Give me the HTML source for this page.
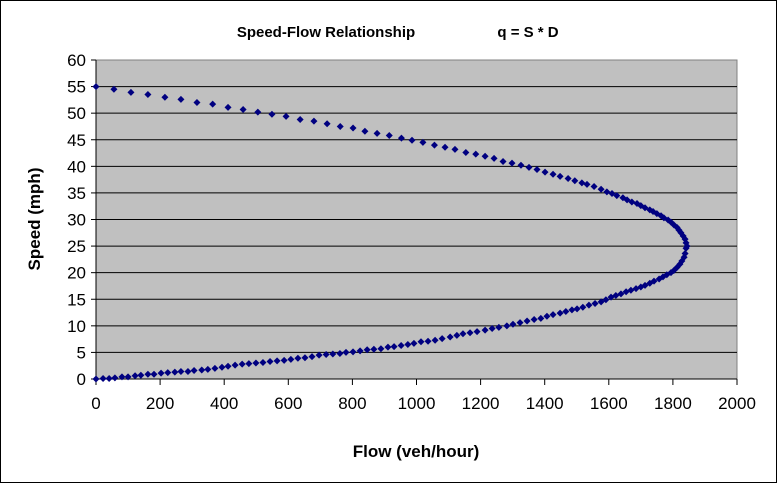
<!DOCTYPE html>
<html><head><meta charset="utf-8"><style>
body{margin:0;background:#fff}
svg{display:block;font-family:"Liberation Sans",Arial,sans-serif}
</style></head><body>
<svg id="c" width="778" height="484">
<rect x="0.5" y="0.5" width="776" height="482" fill="#fff" stroke="#000"/>
<text x="326" y="37" font-size="15" font-weight="bold" text-anchor="middle">Speed-Flow Relationship</text>
<text x="528" y="37" font-size="15" font-weight="bold" text-anchor="middle">q = S * D</text>
<rect x="96" y="60" width="641" height="319" fill="#c0c0c0" stroke="#808080"/>
<g id="grid"></g><g id="axes"></g><g id="pts"></g>
<text x="416" y="457" font-size="17" font-weight="bold" text-anchor="middle">Flow (veh/hour)</text>
<text transform="translate(40,219) rotate(-90)" font-size="17" font-weight="bold" text-anchor="middle">Speed (mph)</text>
</svg>
<script>
const xTicks=[0,200,400,600,800,1000,1200,1400,1600,1800,2000];
const yTicks=[0,5,10,15,20,25,30,35,40,45,50,55,60];
const flows=[0,56,109,162,215,265,315,364,412,459,505,549,593,637,680,721,762,802,839,877,915,953,986,1020,1056,1089,1120,1154,1185,1214,1242,1270,1298,1326,1351,1376,1401,1426,1448,1473,1494,1516,1532,1554,1576,1594,1610,1625,1644,1657,1672,1688,1700,1713,1728,1738,1750,1763,1772,1785,1794,1803,1813,1819,1825,1832,1838,1841,1844,1841,1838,1835,1828,1822,1813,1803,1794,1781,1769,1757,1741,1728,1713,1700,1685,1669,1654,1638,1622,1607,1591,1576,1557,1538,1519,1501,1485,1466,1448,1426,1407,1388,1367,1345,1323,1301,1282,1257,1236,1214,1189,1167,1145,1126,1105,1080,1058,1036,1014,992,973,952,930,911,889,867,846,824,802,780,761,739,718,696,674,652,630,608,587,565,543,521,499,477,456,434,412,393,371,349,330,306,287,265,246,224,203,181,162,140,122,100,81,59,41,22,0];
const speeds=[55,54.5,53.9,53.5,53.0,52.6,52.0,51.7,51.1,50.7,50.2,49.8,49.4,48.8,48.5,48.0,47.5,47.2,46.6,46.2,45.8,45.3,44.9,44.5,44.0,43.6,43.2,42.6,42.3,41.9,41.5,40.9,40.6,40.2,39.8,39.4,38.9,38.5,38.1,37.7,37.3,36.9,36.6,36.2,35.7,35.2,34.9,34.5,34.1,33.7,33.3,33.0,32.6,32.2,31.8,31.5,31.1,30.7,30.3,29.9,29.5,29.0,28.5,28.0,27.5,26.9,26.3,25.6,25.0,24.6,23.6,22.9,22.2,21.6,21.0,20.4,20.0,19.6,19.2,18.8,18.4,18.0,17.6,17.3,17.0,16.7,16.4,16.0,15.7,15.4,14.9,14.5,14.2,13.9,13.5,13.2,13.0,12.7,12.4,12.1,11.8,11.4,11.2,10.9,10.6,10.3,10.0,9.7,9.5,9.2,8.9,8.7,8.5,8.2,7.9,7.6,7.3,7.1,7.0,6.7,6.5,6.3,6.1,6.0,5.7,5.6,5.5,5.3,5.1,5.0,4.8,4.7,4.6,4.5,4.2,4.0,3.9,3.7,3.5,3.4,3.3,3.1,3.0,2.9,2.8,2.6,2.4,2.2,2.0,1.8,1.7,1.6,1.4,1.4,1.3,1.2,1.1,0.9,0.9,0.7,0.6,0.4,0.4,0.2,0.1,0.1,0];
const NS='http://www.w3.org/2000/svg';
const X0=96,X1=737,Y0=379,Y1=60;
function sx(v){return X0+(v/2000)*(X1-X0);}
function sy(v){return Y0-(v/60)*(Y0-Y1);}
function mk(t,a,p){const e=document.createElementNS(NS,t);for(const k in a)e.setAttribute(k,a[k]);p.appendChild(e);return e;}
const grid=document.getElementById('grid'),axes=document.getElementById('axes'),pts=document.getElementById('pts');
yTicks.forEach(v=>{
  if(v>0&&v<60){const l=mk('line',{x1:X0,x2:X1,y1:sy(v),y2:sy(v),stroke:'#000','stroke-width':1},grid);
  
  }
  const t=mk('line',{x1:X0-5,x2:X0,y1:sy(v),y2:sy(v),stroke:'#000'},axes);
  
  
  const tx=mk('text',{x:86,y:sy(v)+6,'font-size':17,'text-anchor':'end'},axes);
  tx.textContent=v;
  
  
});
xTicks.forEach(v=>{
  const t=mk('line',{x1:sx(v),x2:sx(v),y1:Y0,y2:Y0+6,stroke:'#000'},axes);
  
  
  const tx=mk('text',{x:sx(v),y:Y0+30,'font-size':17,'text-anchor':'middle'},axes);
  tx.textContent=v;
  
  
});
const ya=mk('line',{x1:X0,x2:X0,y1:Y1,y2:Y0,stroke:'#000'},axes);


const xa=mk('line',{x1:X0,x2:X1,y1:Y0,y2:Y0,stroke:'#000'},axes);


flows.forEach((f,i)=>{
  const x=sx(f),y=sy(speeds[i]);
  const p=mk('polygon',{points:`${x},${y-3.5} ${x+3.5},${y} ${x},${y+3.5} ${x-3.5},${y}`,fill:'#000080'},pts);
  
  
});
</script>
</body></html>
